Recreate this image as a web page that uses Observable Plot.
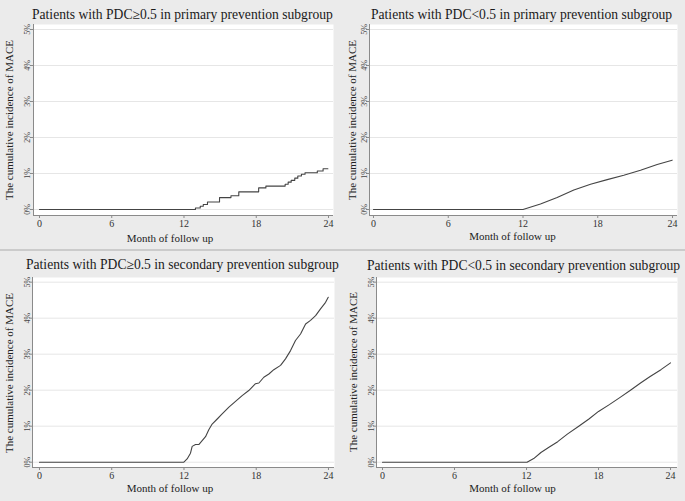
<!DOCTYPE html>
<html>
<head>
<meta charset="utf-8">
<script src="https://cdn.jsdelivr.net/npm/d3@7"></script>
<script src="https://cdn.jsdelivr.net/npm/@observablehq/plot@0.6"></script>
<style>
  html, body { margin: 0; padding: 0; background: #ebebeb; }
  #root { position: relative; width: 685px; height: 501px; background: #ebebeb; overflow: hidden;
          font-family: "Liberation Serif", "DejaVu Serif", serif; }
  .panel { position: absolute; overflow: hidden; background: #ebebeb; }
  .panel svg { position: absolute; left: 0; top: 0; max-width: none; }
  .title { position: absolute; white-space: nowrap; font-size: 13.6px; line-height: 1; color: #1a1a1a; }
  .xlab { position: absolute; white-space: nowrap; font-size: 11px; line-height: 1; color: #222;
          transform: translateX(-50%); }
  .ylab { position: absolute; white-space: nowrap; font-size: 11px; line-height: 1; color: #222;
          transform: translate(-50%, -50%) rotate(-90deg); }
  .sep { position: absolute; left: 0; width: 685px; height: 2px; background: #cbcbcb; top: 248.5px; }
</style>
</head>
<body>
<div id="root"></div>
<script>
// ---------- data ----------
const monthTicks = [0, 6, 12, 18, 24];
const pctTicks = [0, 1, 2, 3, 4, 5];
const xTitle = "Month of follow up";
const yTitle = "The cumulative incidence of MACE";
const panelTitles = [
  "Patients with PDC\u22650.5 in primary prevention subgroup",
  "Patients with PDC<0.5 in primary prevention subgroup",
  "Patients with PDC\u22650.5 in secondary prevention subgroup",
  "Patients with PDC<0.5 in secondary prevention subgroup"
];

// Panel 1: PDC>=0.5, primary prevention (step function)
const p1Month = [0, 12.95, 13.35, 13.6, 13.95, 14.95, 15.9, 16.55, 18.2, 18.8, 20.4, 20.65, 20.9, 21.2, 21.45, 21.75, 22.05, 23.07, 23.55, 23.95];
const p1Pct   = [0, 0.04, 0.09, 0.14, 0.21, 0.33, 0.38, 0.49, 0.60, 0.65, 0.70, 0.76, 0.81, 0.87, 0.93, 0.98, 1.02, 1.07, 1.13, 1.13];

// Panel 2: PDC<0.5, primary prevention
const p2Month = [0, 12.0, 13.4, 14.74, 16.08, 17.42, 18.76, 20.09, 21.43, 22.77, 23.97];
const p2Pct   = [0, 0, 0.15, 0.33, 0.54, 0.70, 0.83, 0.95, 1.09, 1.25, 1.37];

// Panel 3: PDC>=0.5, secondary prevention
const p3Month = [0, 11.99, 12.26, 12.54, 12.68, 12.96, 13.23, 13.51, 13.79, 14.06, 14.34, 14.76, 15.17, 15.73, 16.28, 16.83, 17.38, 17.94, 18.22, 18.63, 19.05, 19.46, 20.02, 20.43, 20.85, 21.26, 21.68, 22.10, 22.51, 22.93, 23.34, 23.76, 23.98];
const p3Pct   = [0, 0, 0.09, 0.25, 0.44, 0.49, 0.49, 0.60, 0.71, 0.90, 1.06, 1.20, 1.34, 1.53, 1.69, 1.85, 1.99, 2.18, 2.20, 2.36, 2.45, 2.57, 2.69, 2.87, 3.10, 3.38, 3.56, 3.84, 3.94, 4.07, 4.26, 4.44, 4.58];

// Panel 4: PDC<0.5, secondary prevention
const p4Month = [0, 12.04, 12.6, 13.2, 13.9, 14.6, 15.4, 16.35, 17.2, 18.0, 18.9, 19.8, 20.66, 21.5, 22.3, 23.2, 24.0];
const p4Pct   = [0, 0, 0.10, 0.27, 0.42, 0.57, 0.78, 1.00, 1.20, 1.41, 1.60, 1.80, 2.00, 2.20, 2.38, 2.57, 2.76];

// ---------- layout ----------
const panels = [
  { left: 0,   top: 0,   w: 341, h: 250, ml: 33, mr: 8, mt: 24, mb: 35,
    xd: [-0.498, 24.415], yd: [-0.167, 5.139], tp: 1, curve: "step-after",
    month: p1Month, pct: p1Pct, title: panelTitles[0], tl: 32, tt: 7.9,
    ylx: 9, yly: 119.5, xlx: 170, xlt: 233 },
  { left: 340, top: 0,   w: 345, h: 250, ml: 29, mr: 8, mt: 24, mb: 35,
    xd: [-0.321, 24.40], yd: [-0.167, 5.139], tp: 0, curve: "linear",
    month: p2Month, pct: p2Pct, title: panelTitles[1], tl: 31, tt: 7.9,
    ylx: 12, yly: 119.5, xlx: 172.5, xlt: 231 },
  { left: 0,   top: 250, w: 341, h: 251, ml: 32, mr: 7, mt: 27, mb: 34,
    xd: [-0.58, 24.5], yd: [-0.147, 5.13], tp: 0, curve: "linear",
    month: p3Month, pct: p3Pct, title: panelTitles[2], tl: 26, tt: 7.9,
    ylx: 9, yly: 123, xlx: 170, xlt: 232.5 },
  { left: 340, top: 250, w: 345, h: 251, ml: 36, mr: 8, mt: 27, mb: 34,
    xd: [-0.5, 24.58], yd: [-0.147, 5.13], tp: 0, curve: "linear",
    month: p4Month, pct: p4Pct, title: panelTitles[3], tl: 27, tt: 8.6,
    ylx: 13, yly: 122, xlx: 172.5, xlt: 232.5 }
];

const root = document.getElementById("root");

panels.forEach(p => {
  const div = document.createElement("div");
  div.className = "panel";
  div.style.left = p.left + "px";
  div.style.top = p.top + "px";
  div.style.width = p.w + "px";
  div.style.height = p.h + "px";

  const data = p.month.map((m, i) => ({ month: m, pct: p.pct[i] }));

  const chart = Plot.plot({
    width: p.w,
    height: p.h,
    marginLeft: p.ml,
    marginRight: p.mr,
    marginTop: p.mt,
    marginBottom: p.mb,
    style: { background: "transparent", fontFamily: "Liberation Serif, serif", color: "#444", overflow: "visible" },
    x: { domain: p.xd, label: null },
    y: { domain: p.yd, label: null },
    marks: [
      Plot.frame({ fill: "white", stroke: null }),
      Plot.gridY(pctTicks, { stroke: "#e6e6e6", strokeOpacity: 1, strokeWidth: 1 }),
      Plot.axisX(monthTicks, { tickSize: 3, tickPadding: 1, fontSize: 10, label: null, stroke: "#8a8a8a", fill: "#333" }),
      Plot.axisY(pctTicks, { tickSize: 3, tickRotate: -90, tickPadding: p.tp, fontSize: 8, label: null,
                             tickFormat: d => d + "%", stroke: "#8a8a8a", fill: "#444" }),
      Plot.ruleX([p.xd[0]], { stroke: "#8a8a8a", strokeWidth: 1 }),
      Plot.ruleY([p.yd[0]], { stroke: "#8a8a8a", strokeWidth: 1 }),
      Plot.line(data, { x: "month", y: "pct", stroke: "#444", strokeWidth: 1.1, curve: p.curve })
    ]
  });
  div.appendChild(chart);

  const t = document.createElement("div");
  t.className = "title";
  t.textContent = p.title;
  t.style.left = p.tl + "px";
  t.style.top = p.tt + "px";
  div.appendChild(t);

  const yl = document.createElement("div");
  yl.className = "ylab";
  yl.textContent = yTitle;
  yl.style.left = p.ylx + "px";
  yl.style.top = p.yly + "px";
  div.appendChild(yl);

  const xl = document.createElement("div");
  xl.className = "xlab";
  xl.textContent = xTitle;
  xl.style.left = p.xlx + "px";
  xl.style.top = p.xlt + "px";
  div.appendChild(xl);

  root.appendChild(div);
});

const sep = document.createElement("div");
sep.className = "sep";
root.appendChild(sep);
</script>
</body>
</html>
